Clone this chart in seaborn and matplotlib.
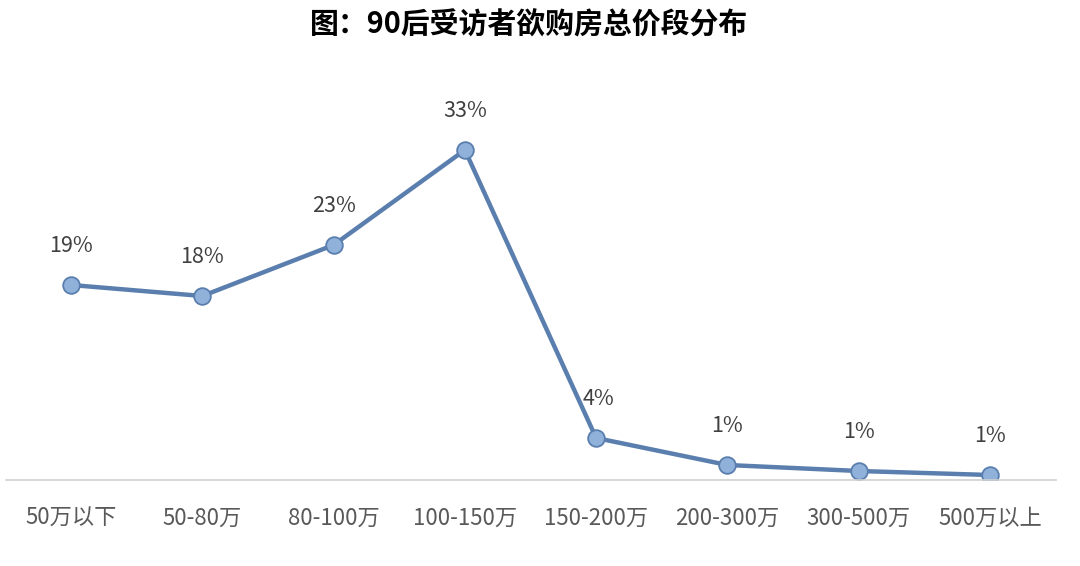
import matplotlib
matplotlib.use("Agg")
import matplotlib.pyplot as plt
import seaborn as sns
import pandas as pd

categories = ["50万以下", "50-80万", "80-100万", "100-150万", "150-200万", "200-300万", "300-500万", "500万以上"]
values = [19.5, 18.4, 23.5, 33.0, 4.2, 1.5, 0.9, 0.5]
labels = ["19%", "18%", "23%", "33%", "4%", "1%", "1%", "1%"]
title = "图：90后受访者欲购房总价段分布"

sns.set_theme(style="white")
plt.rcParams['font.family'] = ['Noto Sans CJK SC', 'DejaVu Sans']

df = pd.DataFrame({"cat": categories, "val": values, "pos": range(len(categories))})

fig = plt.figure(figsize=(10.8, 5.66), dpi=100)
ax = fig.add_axes([5.5/1080, 1 - 480/566, 1050/1080, 400/566])

sns.lineplot(data=df, x="pos", y="val", ax=ax, color="#5A7FAE", linewidth=3.2,
             marker="o", markersize=12, markerfacecolor="#8FB1DA",
             markeredgecolor="#5A7FAE", markeredgewidth=1.3)

for p, v, lab in zip(df["pos"], values, labels):
    dx = 2 if lab == "4%" else 0
    ax.annotate(lab, (p, v), xytext=(dx, 28), textcoords="offset points",
                ha="center", va="center", fontsize=15.5, color="#404040")

ax.set_xlim(-0.5, len(categories) - 0.5)
ax.set_ylim(0, 40)
ax.set_xticks(list(df["pos"]))
ax.set_xticklabels(categories, fontsize=16, color="#595959")
ax.tick_params(axis="x", length=0, pad=19)
ax.set_yticks([])
ax.set_xlabel("")
ax.set_ylabel("")
for s in ["top", "right", "left"]:
    ax.spines[s].set_visible(False)
ax.spines["bottom"].set_color("#D0D0D0")
ax.spines["bottom"].set_linewidth(1.2)

fig.text(0.490, 1 - 25/566, title, ha="center", va="center", fontsize=20.8,
         fontweight="bold", color="#000000")

fig.savefig("out.png", dpi=100, facecolor="white")
